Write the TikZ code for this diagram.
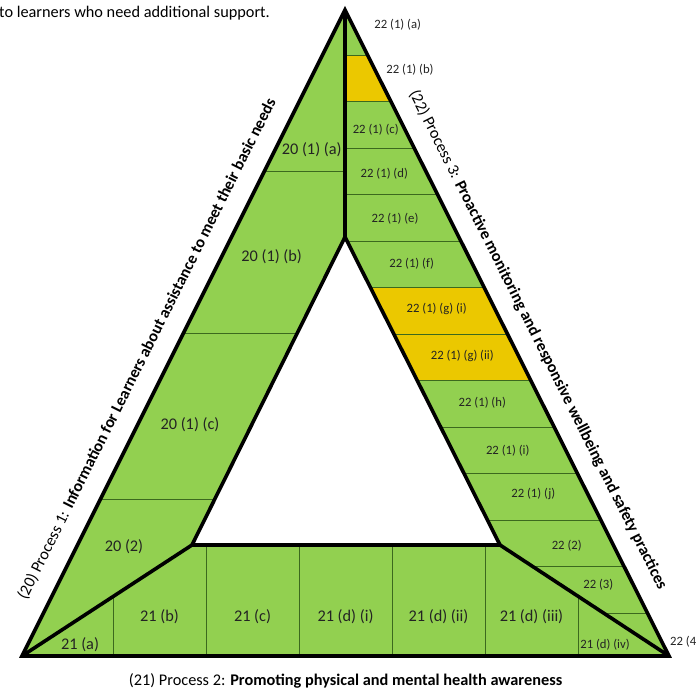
\documentclass[tikz,border=0pt]{standalone}
\usepackage{fontspec}
\setmainfont{Carlito}
\definecolor{bandgreen}{RGB}{146,208,80}
\definecolor{bandyellow}{RGB}{235,200,0}
\definecolor{thingreen}{RGB}{60,105,30}
\definecolor{labelink}{RGB}{35,35,35}
\begin{document}
\begin{tikzpicture}[x=1pt,y=-1pt,
  border/.style={line width=3.6pt, line join=miter, black},
  cellline/.style={line width=0.9pt, thingreen},
  biglabel/.style={font=\fontsize{16.3}{18}\selectfont, text=labelink, inner sep=0pt},
  smalllabel/.style={font=\fontsize{12.7}{14}\selectfont, text=labelink, inner sep=0pt},
  titletext/.style={font=\fontsize{16.3}{18}\selectfont, text=black, inner sep=0pt}]
\useasboundingbox (0,0) rectangle (697,689);

% main corners
\coordinate (T) at (345,10);
\coordinate (BL) at (22,656);
\coordinate (BR) at (669,656);
\coordinate (IT) at (345,237);
\coordinate (IL) at (192,545);
\coordinate (IR) at (500,545);

% fills
\fill[bandgreen] (T) -- (BR) -- (BL) -- cycle;
\fill[white] (IT) -- (IR) -- (IL) -- cycle;
\fill[bandyellow] (345,55) -- (367.6,55) -- (390.9,101.5) -- (345,101.5) -- cycle;
\fill[bandyellow] (370.4,287.5) -- (484.2,287.5) -- (530.8,380.5) -- (417.2,380.5) -- cycle;

% right band rows
\draw[cellline] (345,55) -- (367.6,55);
\draw[cellline] (345,101.5) -- (390.9,101.5);
\draw[cellline] (345,148) -- (414.2,148);
\draw[cellline] (345,194.5) -- (437.5,194.5);
\draw[cellline] (347.0,241) -- (460.9,241);
\draw[cellline] (370.4,287.5) -- (484.2,287.5);
\draw[cellline] (393.8,334) -- (507.5,334);
\draw[cellline] (417.2,380.5) -- (530.8,380.5);
\draw[cellline] (440.6,427) -- (554.1,427);
\draw[cellline] (464.0,473.5) -- (577.5,473.5);
\draw[cellline] (487.4,520) -- (600.8,520);
\draw[cellline] (532.7,566.5) -- (624.1,566.5);
\draw[cellline] (603.5,613) -- (647.4,613);

% left band rows
\draw[cellline] (264.5,171) -- (345,171);
\draw[cellline] (183.5,333) -- (297.3,333);
\draw[cellline] (100.5,499) -- (214.9,499);

% bottom band columns
\draw[cellline] (113,596.6) -- (113,656);
\draw[cellline] (206,545) -- (206,656);
\draw[cellline] (299,545) -- (299,656);
\draw[cellline] (392,545) -- (392,656);
\draw[cellline] (485,545) -- (485,656);
\draw[cellline] (578,596.2) -- (578,656);

% thick borders
\draw[border] (T) -- (BR) -- (BL) -- cycle;
\draw[border] (IT) -- (IR) -- (IL) -- cycle;
\draw[border] (T) -- (IT);
\draw[border] (BL) -- (IL);
\draw[border] (BR) -- (IR);

% left labels
\node[biglabel] (l1a) at (311.7,149.3) {20 (1) (a)};
\node[biglabel] (l1b) at (271.7,256.7) {20 (1) (b)};
\node[biglabel] (l1c) at (190,425) {20 (1) (c)};
\node[biglabel] (l2) at (124,546.7) {20 (2)};

% bottom labels
\node[biglabel] (ba) at (80,645) {21 (a)};
\node[biglabel] (bb) at (159.5,616.7) {21 (b)};
\node[biglabel] (bc) at (252.5,616.7) {21 (c)};
\node[biglabel] (bdi) at (345.5,616.7) {21 (d) (i)};
\node[biglabel] (bdii) at (438.5,616.7) {21 (d) (ii)};
\node[biglabel] (bdiii) at (531.5,616.7) {21 (d) (iii)};
\node[smalllabel] (bdiv) at (605,645) {21 (d) (iv)};

% right labels
\node[smalllabel] (r1a) at (397.7,25) {22 (1) (a)};
\node[smalllabel] (r1b) at (410,70) {22 (1) (b)};
\node[smalllabel] (r1c) at (375.7,130) {22 (1) (c)};
\node[smalllabel] (r1d) at (384.3,174) {22 (1) (d)};
\node[smalllabel] (r1e) at (395,218.3) {22 (1) (e)};
\node[smalllabel] (r1f) at (411.7,264) {22 (1) (f)};
\node[smalllabel] (r1gi) at (436.7,309.3) {22 (1) (g) (i)};
\node[smalllabel] (r1gii) at (462.3,355.7) {22 (1) (g) (ii)};
\node[smalllabel] (r1h) at (482.3,402.7) {22 (1) (h)};
\node[smalllabel] (r1i) at (507.7,451) {22 (1) (i)};
\node[smalllabel] (r1j) at (533.3,494.3) {22 (1) (j)};
\node[smalllabel] (r2) at (566.7,545.7) {22 (2)};
\node[smalllabel] (r3) at (598.3,584.3) {22 (3)};
\node[smalllabel, anchor=west] (r4) at (670,641.7) {22 (4};

% titles
\node[titletext, rotate=63.4] (p1) at (147,349)
  {(20) Process 1: \textbf{Information for Learners about assistance to meet their basic needs}};
\node[titletext, rotate=-63.33] (p3) at (538,340)
  {(22) Process 3: \textbf{Proactive monitoring and responsive wellbeing and safety practices}};
\node[titletext] (p2) at (345.5,681)
  {(21) Process 2: \textbf{Promoting physical and mental health awareness}};

% top text fragment
\node[titletext, anchor=base west] (top) at (-1,17) {to learners who need additional support.};
\end{tikzpicture}
\end{document}
